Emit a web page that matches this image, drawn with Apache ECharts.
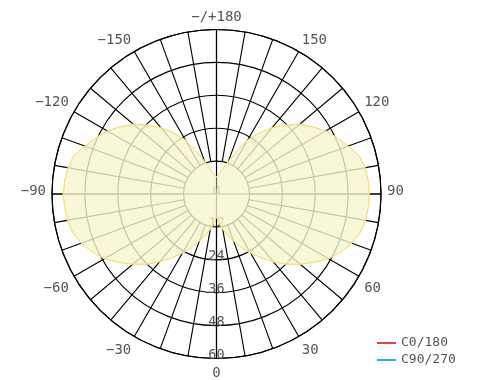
<!DOCTYPE html>
<html><head><meta charset="utf-8">
<script src="https://cdn.jsdelivr.net/npm/echarts@6/dist/echarts.min.js"></script>
<style>html,body{margin:0;padding:0;background:#fff}#c{width:491px;height:380px}</style>
</head><body><div id="c"></div>
<script>
// angles in degrees (0 = bottom, 90 = right, +/-180 = top)
const angles = [-180,-175,-170,-165,-160,-155,-150,-145,-140,-135,-130,-125,-120,-115,-110,-105,-100,-95,
  -90,-85,-80,-75,-70,-65,-60,-55,-50,-45,-40,-35,-30,-25,-20,-15,-10,-5,
  0,5,10,15,20,25,30,35,40,45,50,55,60,65,70,75,80,85,
  90,95,100,105,110,115,120,125,130,135,140,145,150,155,160,165,170,175,180];
const c0_180 = [6.2,6.8,8.0,9.8,12.5,17.0,22.8,27.2,31.6,35.5,39.6,42.8,46.0,48.6,51.0,53.9,55.0,55.6,
  55.9,55.6,55.2,54.3,52.5,50.0,47.2,43.5,39.8,36.2,32.3,28.5,24.8,21.5,18.2,15.5,13.0,10.5,
  8.4,10.5,13.0,15.5,18.2,21.5,24.8,28.5,32.3,36.2,39.8,43.5,47.2,50.0,52.5,54.3,55.2,55.6,
  55.7,55.6,55.0,53.9,51.0,48.6,46.0,42.8,39.6,35.5,31.6,27.2,22.8,17.0,12.5,9.8,8.0,6.8,6.2];
const c90_270 = [6.2,6.8,8.0,9.8,12.5,17.0,22.8,27.2,31.6,35.5,39.6,42.8,46.0,48.6,51.0,53.9,55.0,55.6,
  55.9,55.6,55.2,54.3,52.5,50.0,47.2,43.5,39.8,36.2,32.3,28.5,24.8,21.5,18.2,15.5,13.0,10.5,
  8.4,10.5,13.0,15.5,18.2,21.5,24.8,28.5,32.3,36.2,39.8,43.5,47.2,50.0,52.5,54.3,55.2,55.6,
  55.7,55.6,55.0,53.9,51.0,48.6,46.0,42.8,39.6,35.5,31.6,27.2,22.8,17.0,12.5,9.8,8.0,6.8,6.2];
const radiusTicks = [0,12,24,36,48,60];
const seriesNames = ['C0/180','C90/270'];

const FONT = 'DejaVu Sans Mono';
const CX = 216.5, CY = 194, R = 164.5;
const LW = 1.15;
const toData = vals => vals.map((v,i) => [v, angles[i] < 0 ? angles[i] + 360 : angles[i]]);
const angleLabel = v => {
  if (v % 30 !== 0 || v >= 360) return '';
  let txt;
  if (v === 180) txt = '\u2212/+180';
  else if (v > 180) txt = '\u2212' + (360 - v);
  else txt = String(v);
  let key;
  if (v === 90 || v === 270) key = 's';
  else if (v >= 120 && v <= 240) key = 't';
  else key = 'b';
  return '{' + key + '|' + txt + '}';
};
const lblBase = {fontFamily:FONT, fontSize:14, color:'#555'};

const chart = echarts.init(document.getElementById('c'), null, {renderer:'canvas'});
chart.setOption({
  animation: false,
  backgroundColor: '#fff',
  polar: [
    {center:[CX, CY], radius:[0, R]},
    {center:[CX, CY], radius:[R/5, R]}
  ],
  angleAxis: [
    {polarIndex:0, type:'value', min:0, max:360, interval:90, startAngle:-90, clockwise:false,
      axisLine:{show:true, lineStyle:{color:'#000', width:LW}},
      axisTick:{show:false}, axisLabel:{show:false},
      splitLine:{show:true, lineStyle:{color:'#000', width:LW}}},
    {polarIndex:1, type:'value', min:0, max:360, interval:10, startAngle:-90, clockwise:false,
      axisLine:{show:false}, axisTick:{show:false},
      axisLabel:{show:true, margin:6, color:'#555', fontFamily:FONT, fontSize:14, formatter:angleLabel,
        rich:{
          s:Object.assign({padding:[0,0,6,0]}, lblBase),
          t:Object.assign({lineHeight:12}, lblBase),
          b:Object.assign({padding:[2,0,0,0]}, lblBase)
        }},
      splitLine:{show:true, lineStyle:{color:'#000', width:LW}}}
  ],
  radiusAxis: [
    {polarIndex:0, type:'value', min:radiusTicks[0], max:radiusTicks[radiusTicks.length-1], interval:12,
      axisLine:{show:false}, axisTick:{show:false},
      axisLabel:{show:true, margin:0, align:'center', verticalAlign:'bottom', lineHeight:6,
        color:'#555', fontFamily:FONT, fontSize:13.5},
      splitLine:{show:true, lineStyle:{color:'#000', width:LW}}},
    {polarIndex:1, type:'value', min:12, max:60, show:false}
  ],
  legend: {
    orient:'vertical', left:372, top:331, padding:5, itemWidth:19, itemHeight:2, itemGap:3, icon:'rect',
    selectedMode:false,
    textStyle:{fontFamily:FONT, fontSize:13, color:'#555', lineHeight:14, padding:[0,0,0,0]},
    data:[{name:seriesNames[0], itemStyle:{color:'#f03c3c'}}, {name:seriesNames[1], itemStyle:{color:'#19b4f0'}}]
  },
  series: [
    {name:seriesNames[0], type:'line', coordinateSystem:'polar', polarIndex:0, data:toData(c0_180),
      showSymbol:false, smooth:false, lineStyle:{color:'#f5e07a', width:1}, itemStyle:{color:'#f5e07a'},
      areaStyle:{color:'rgba(246,245,205,0.8)', opacity:1}},
    {name:seriesNames[1], type:'line', coordinateSystem:'polar', polarIndex:0, data:toData(c90_270),
      showSymbol:false, smooth:false, lineStyle:{color:'#f5e07a', width:1}, itemStyle:{color:'#f5e07a'}}
  ]
});
</script></body></html>
